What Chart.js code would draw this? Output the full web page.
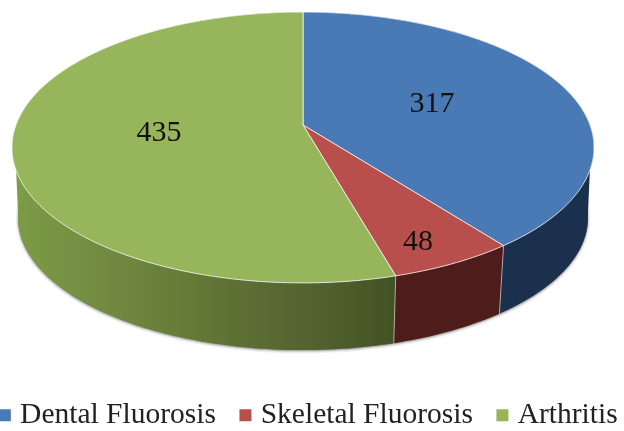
<!DOCTYPE html>
<html>
<head>
<meta charset="utf-8">
<style>
html,body{margin:0;padding:0;background:#fff;}
#wrap{width:624px;height:431px;position:relative;overflow:hidden;}
canvas{display:block;filter:blur(0.55px);}
</style>
<script src="https://cdn.jsdelivr.net/npm/chart.js@4/dist/chart.umd.js"></script>
</head>
<body>
<div id="wrap"><canvas id="c" width="624" height="431"></canvas></div>
<script>
const categories = ['Dental Fluorosis', 'Skeletal Fluorosis', 'Arthritis'];
const cases = [317, 48, 435];
const topColors = ['#4a7ab5', '#b94f4c', '#97b55a'];
const labelRadius = [0.49, 0.85, 0.5];
const labelNudgeDeg = [-0.8, 2.3, 0.8];

const FONT = '"Liberation Serif", "Times New Roman", serif';

// Perspective view of a flat disc: unit-disc coordinates to screen.
const view = {
  top:    {cx: 303, cy: 125, a: 287, b: 131.7, k: 0.166},
  bottom: {cx: 303, cy: 196, a: 281, b: 128.5, k: 0.166}
};
function project(p, r, theta) {
  const u = r * Math.cos(theta), v = r * Math.sin(theta), w = 1 - p.k * v;
  return [p.cx + p.a * u / w, p.cy + p.b * v / w];
}
function trace(ctx, p, from, to, moveFirst) {
  const n = Math.max(2, Math.ceil(Math.abs(to - from) / 0.02));
  for (let i = 0; i <= n; i++) {
    const [x, y] = project(p, 1, from + (to - from) * i / n);
    if (i === 0 && moveFirst) ctx.moveTo(x, y); else ctx.lineTo(x, y);
  }
}
function wallPaint(ctx, i) {
  if (i === 0) return '#1a304d';
  if (i === 1) return '#4e1c1a';
  const g = ctx.createLinearGradient(12, 0, 397, 0);
  g.addColorStop(0, '#7d9c46');
  g.addColorStop(0.25, '#718a40');
  g.addColorStop(0.5, '#627736');
  g.addColorStop(0.75, '#556431');
  g.addColorStop(1, '#435223');
  return g;
}
const rad = d => d * Math.PI / 180;
// the rim leaves the top face above the widest point of the base
function rimWedge(ctx, topDeg, baseDeg, innerX, paint) {
  const t = project(view.top, 1, rad(topDeg)), b = project(view.bottom, 1, rad(baseDeg));
  ctx.beginPath();
  ctx.moveTo(t[0], t[1]);
  ctx.lineTo(b[0], b[1]);
  ctx.lineTo(innerX, t[1] + 20);
  ctx.closePath();
  ctx.fillStyle = paint;
  ctx.fill();
}

const disc3d = {
  id: 'disc3d',
  beforeDatasetDraw(chart, args) {
    const ctx = chart.ctx;
    const arcs = chart.getDatasetMeta(args.index).data;
    ctx.save();

    // soft shadow under the base
    ctx.save();
    ctx.shadowColor = 'rgba(0,0,0,0.5)';
    ctx.shadowBlur = 3;
    ctx.shadowOffsetY = 1;
    ctx.fillStyle = '#888';
    ctx.beginPath();
    trace(ctx, view.bottom, 0, Math.PI * 2, true);
    ctx.closePath();
    ctx.fill();
    ctx.restore();

    // side walls
    rimWedge(ctx, 161, 171.7, 100, '#7d9c46');
    rimWedge(ctx, 19, 8.3, 500, '#1a304d');
    [2, 0, 1].forEach(i => {
      const a = arcs[i];
      ctx.beginPath();
      trace(ctx, view.top, a.startAngle, a.endAngle, true);
      trace(ctx, view.bottom, a.endAngle, a.startAngle, false);
      ctx.closePath();
      ctx.fillStyle = wallPaint(ctx, i);
      ctx.fill();
    });
    // seams between walls
    ctx.strokeStyle = 'rgba(255,255,255,0.55)';
    ctx.lineWidth = 1;
    [0, 1].forEach(i => {
      const e = arcs[i].endAngle;
      const t = project(view.top, 1, e), b = project(view.bottom, 1, e);
      ctx.beginPath(); ctx.moveTo(t[0], t[1]); ctx.lineTo(b[0], b[1]); ctx.stroke();
    });

    // top face
    arcs.forEach((a, i) => {
      ctx.beginPath();
      ctx.moveTo(view.top.cx, view.top.cy);
      trace(ctx, view.top, a.startAngle, a.endAngle, false);
      ctx.closePath();
      ctx.fillStyle = topColors[i];
      ctx.fill();
      ctx.strokeStyle = 'rgba(255,255,255,0.75)';
      ctx.lineWidth = 1;
      ctx.stroke();
    });

    // value labels
    ctx.fillStyle = '#111';
    ctx.font = '30px ' + FONT;
    ctx.textAlign = 'center';
    ctx.textBaseline = 'middle';
    arcs.forEach((a, i) => {
      const mid = (a.startAngle + a.endAngle) / 2 + rad(labelNudgeDeg[i]);
      const [x, y] = project(view.top, labelRadius[i], mid);
      ctx.fillText(String(cases[i]), x, y);
    });
    ctx.restore();
    return false;
  }
};

new Chart(document.getElementById('c'), {
  type: 'pie',
  data: {
    labels: categories,
    datasets: [{data: cases, backgroundColor: topColors, borderWidth: 0}]
  },
  options: {
    responsive: false,
    animation: false,
    layout: {padding: {bottom: -9, left: -32, right: -30}},
    plugins: {
      tooltip: {enabled: false},
      legend: {
        position: 'bottom',
        labels: {
          usePointStyle: true,
          pointStyle: 'rect',
          boxWidth: 1,
          boxHeight: 12,
          padding: 29,
          color: '#222',
          font: {family: FONT, size: 29.5}
        }
      }
    }
  },
  plugins: [disc3d]
});
</script>
</body>
</html>
